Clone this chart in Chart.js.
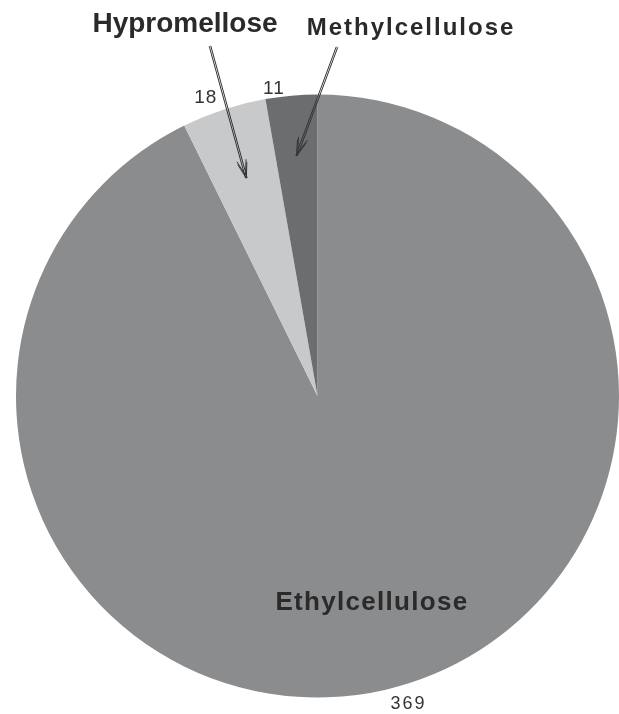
<!DOCTYPE html>
<html>
<head>
    <script src="https://cdn.jsdelivr.net/npm/chart.js"></script>
    <style>
        body { margin: 0; background: #fff; }
        #wrap { width: 619px; height: 714px; }
    </style>
</head>
<body>

    <div id="wrap">
        <canvas id="myChartPie"></canvas>
    </div>

    <script>

        const polymers = ['Ethylcellulose', 'Hypromellose', 'Methylcellulose'];
        const counts = [369, 18, 11];
        const sliceColors = ['#8b8c8e', '#c8c9cb', '#6c6d6f'];

        // where each count sits along its slice, and how far out
        const countAt = [0.49, 0.35, 0.19];
        const countOut = [20, 17, 9];

        function arcPoint(arc, frac, r) {
            const a = arc.startAngle + (arc.endAngle - arc.startAngle) * frac;
            return { x: arc.x + Math.cos(a) * r, y: arc.y + Math.sin(a) * r };
        }

        function drawArrow(ctx, x1, y1, x2, y2) {
            const ang = Math.atan2(y2 - y1, x2 - x1);
            const nx = -Math.sin(ang), ny = Math.cos(ang);
            ctx.save();
            ctx.strokeStyle = '#333';
            ctx.lineWidth = 1;
            // double shaft
            [-0.8, 0.8].forEach(function (o) {
                ctx.beginPath();
                ctx.moveTo(x1 + nx * o, y1 + ny * o);
                ctx.lineTo(x2 + nx * o, y2 + ny * o);
                ctx.stroke();
            });
            // open head
            [-1, 1].forEach(function (s) {
                [0, 3].forEach(function (o) {
                    const hx = x2 - Math.cos(ang) * o, hy = y2 - Math.sin(ang) * o;
                    const a = ang + Math.PI - s * 0.3;
                    ctx.beginPath();
                    ctx.moveTo(hx, hy);
                    ctx.lineTo(hx + Math.cos(a) * 16, hy + Math.sin(a) * 16);
                    ctx.stroke();
                });
            });
            ctx.restore();
        }

        const pieLabels = {
            id: 'pieLabels',
            afterDatasetsDraw(chart) {
                const ctx = chart.ctx;
                const arcs = chart.getDatasetMeta(0).data;
                ctx.save();
                ctx.textAlign = 'center';

                // counts around the rim
                ctx.fillStyle = '#333';
                ctx.textBaseline = 'middle';
                arcs.forEach(function (arc, i) {
                    const p = arcPoint(arc, countAt[i], arc.outerRadius + countOut[i]);
                    ctx.font = (i === 0 ? '18px' : '19px') + ' "Liberation Sans", Arial, sans-serif';
                    ctx.letterSpacing = i === 0 ? '2px' : '1px';
                    ctx.fillText(String(counts[i]), p.x, p.y);
                });

                // polymer names
                ctx.textBaseline = 'alphabetic';
                ctx.fillStyle = '#2a2a2a';
                ctx.letterSpacing = '0px';
                ctx.font = 'bold 28px "Liberation Sans", Arial, sans-serif';
                ctx.fillText(polymers[1], 185, 32);
                ctx.letterSpacing = '2px';
                ctx.font = 'bold 24px "Liberation Sans", Arial, sans-serif';
                ctx.fillText(polymers[2], 411, 35);
                ctx.letterSpacing = '1.3px';
                ctx.font = 'bold 26px "Liberation Sans", Arial, sans-serif';
                ctx.fillText(polymers[0], 372, 610);
                ctx.letterSpacing = '0px';

                // arrows from the names into the thin slices
                const t1 = arcPoint(arcs[1], 0.5, arcs[1].outerRadius * 0.76);
                drawArrow(ctx, 210, 46, t1.x, t1.y);
                const t2 = arcPoint(arcs[2], 0.5, arcs[2].outerRadius * 0.80);
                drawArrow(ctx, 337, 47, t2.x, t2.y);

                ctx.restore();
            }
        };

        const data = {
            labels: polymers,
            datasets: [{
                data: counts,
                backgroundColor: sliceColors,
                borderWidth: 0,
            }]
        };

        const config = {
            type: 'pie',
            data: data,
            options: {
                responsive: true,
                maintainAspectRatio: false,
                animation: false,
                layout: {
                    padding: { left: 16, right: 0, top: 94, bottom: 16 }
                },
                plugins: {
                    legend: { display: false },
                    tooltip: { enabled: false }
                }
            },
            plugins: [pieLabels]
        };

        const myChart = new Chart(
            document.getElementById('myChartPie'),
            config
        );

    </script>

</body>
</html>
